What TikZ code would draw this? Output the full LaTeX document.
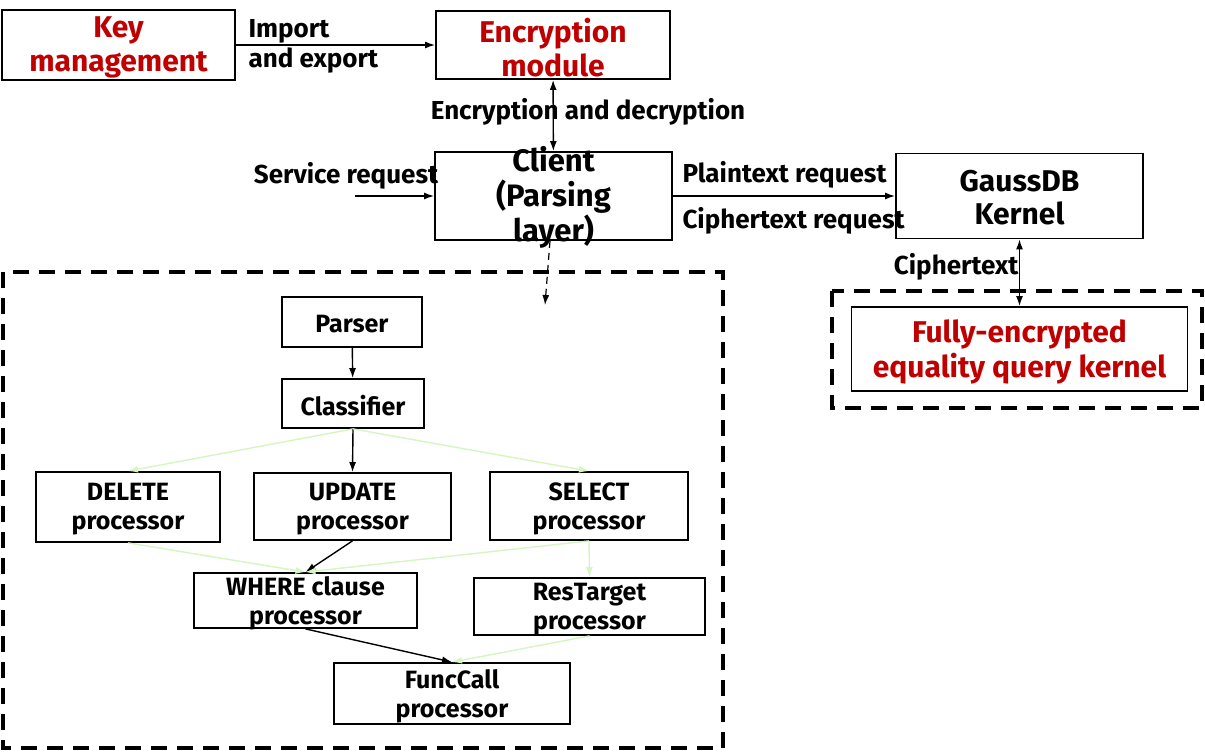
\documentclass[tikz,border=0pt]{standalone}
\usepackage{fontspec}
\setmainfont{Fira Sans}
\usetikzlibrary{arrows.meta}
\definecolor{keyred}{RGB}{192,0,0}
\definecolor{flowgreen}{RGB}{214,245,192}

\begin{document}
\begin{tikzpicture}[x=1pt,y=-1pt,
  box/.style={draw,line width=1.8pt,inner sep=0pt},
  ttl/.style={text=keyred,font=\bfseries\fontsize{30}{34}\selectfont,align=center,yshift=-2.5pt},
  lbl/.style={font=\bfseries\fontsize{26}{30}\selectfont,align=center},
  sub/.style={font=\bfseries\fontsize{25}{29}\selectfont,align=center,yshift=-2.5pt},
  arr/.style={-{Latex[length=10pt,width=7pt]},line width=1.4pt},
  garr/.style={arr,draw=flowgreen},
  frame/.style={line width=3.5pt,dash pattern=on 16pt off 10pt}]
\useasboundingbox (0,0) rectangle (1205,752);

% top row
\node[box,minimum width=233,minimum height=70] (key) at (118.5,45) {};
\node[ttl] (keyT) at (key) {Key\\management};
\node[box,minimum width=234,minimum height=68] (enc) at (553,45) {};
\node[ttl] (encT) at (enc) {Encryption\\module};
\node[box,minimum width=237,minimum height=88] (client) at (553.5,196) {};
\node[lbl,font=\bfseries\fontsize{31}{35}\selectfont,yshift=-1.5pt] (clientT) at (client) {Client\\(Parsing\\layer)};
\node[box,minimum width=247,minimum height=85] (gauss) at (1019.5,196) {};
\node[lbl,font=\bfseries\fontsize{30}{33}\selectfont,yshift=-2pt] (gaussT) at (gauss) {GaussDB\\Kernel};

% right dashed part
\draw[frame] (832,291) rectangle (1202,408);
\node[box,minimum width=336,minimum height=84] (fully) at (1019.5,349) {};
\node[ttl,font=\bfseries\fontsize{30}{35}\selectfont] (fullyT) at (fully) {Fully-encrypted\\equality query kernel};

% labels
\node[lbl,align=left,anchor=west] (impT) at (245,46) {Import\\and export};
\node[lbl] (edT) at (588,112) {Encryption and decryption};
\node[lbl] (svcT) at (346,176) {Service request};
\node[lbl,anchor=west] (plainT) at (679,175) {Plaintext request};
\node[lbl,anchor=west] (cipherT) at (679,221) {Ciphertext request};
\node[lbl,anchor=east] (ctT) at (1022,267) {Ciphertext};

\coordinate (svc) at (355,196);
\coordinate (dashEnd) at (545,305);

\draw[arr] (key) -- (enc);
\draw[arr,{Latex[length=10pt,width=7pt]}-{Latex[length=10pt,width=7pt]}] (enc) -- (client);
\draw[arr] (svc) -- (client);
\draw[arr] (client) -- (gauss);
\draw[arr,{Latex[length=10pt,width=7pt]}-{Latex[length=10pt,width=7pt]}] (gauss) -- (fully);
\draw[arr,line width=1.2pt,dash pattern=on 7pt off 5pt] (client) -- (dashEnd);

% parsing layer
\draw[frame] (3,272) rectangle (723,748);
\node[box,minimum width=140,minimum height=50] (parser) at (352,322) {};
\node[sub] (parserT) at (parser) {Parser};
\node[box,minimum width=142,minimum height=49] (classif) at (353,403.5) {};
\node[sub] (classifT) at (classif) {Classifier};
\node[box,minimum width=184,minimum height=70] (delete) at (128,507) {};
\node[sub] (deleteT) at (delete) {DELETE\\processor};
\node[box,minimum width=197,minimum height=67] (update) at (352.5,506.5) {};
\node[sub] (updateT) at (update) {UPDATE\\processor};
\node[box,minimum width=198,minimum height=68] (select) at (589,506) {};
\node[sub] (selectT) at (select) {SELECT\\processor};
\node[box,minimum width=223,minimum height=55] (where) at (305.5,600.5) {};
\node[sub] (whereT) at (where) {WHERE clause\\processor};
\node[box,minimum width=231,minimum height=57] (restgt) at (589.5,606.5) {};
\node[sub] (restgtT) at (restgt) {ResTarget\\processor};
\node[box,minimum width=236,minimum height=61] (funcc) at (452,693.5) {};
\node[sub] (funccT) at (funcc) {FuncCall\\processor};

\draw[arr] (parser) -- (classif);
\draw[garr] (classif.south) -- (delete.north);
\draw[arr] (classif.south) -- (update.north);
\draw[garr] (classif.south) -- (select.north);
\draw[garr] (delete.south) -- (where.north);
\draw[arr] (update.south) -- (where.north);
\draw[garr] (select.south) -- (where.north);
\draw[garr] (select.south) -- (restgt.north);
\draw[arr] (where.south) -- (funcc.north);
\draw[garr] (restgt.south) -- (funcc.north);
\end{tikzpicture}
\end{document}
